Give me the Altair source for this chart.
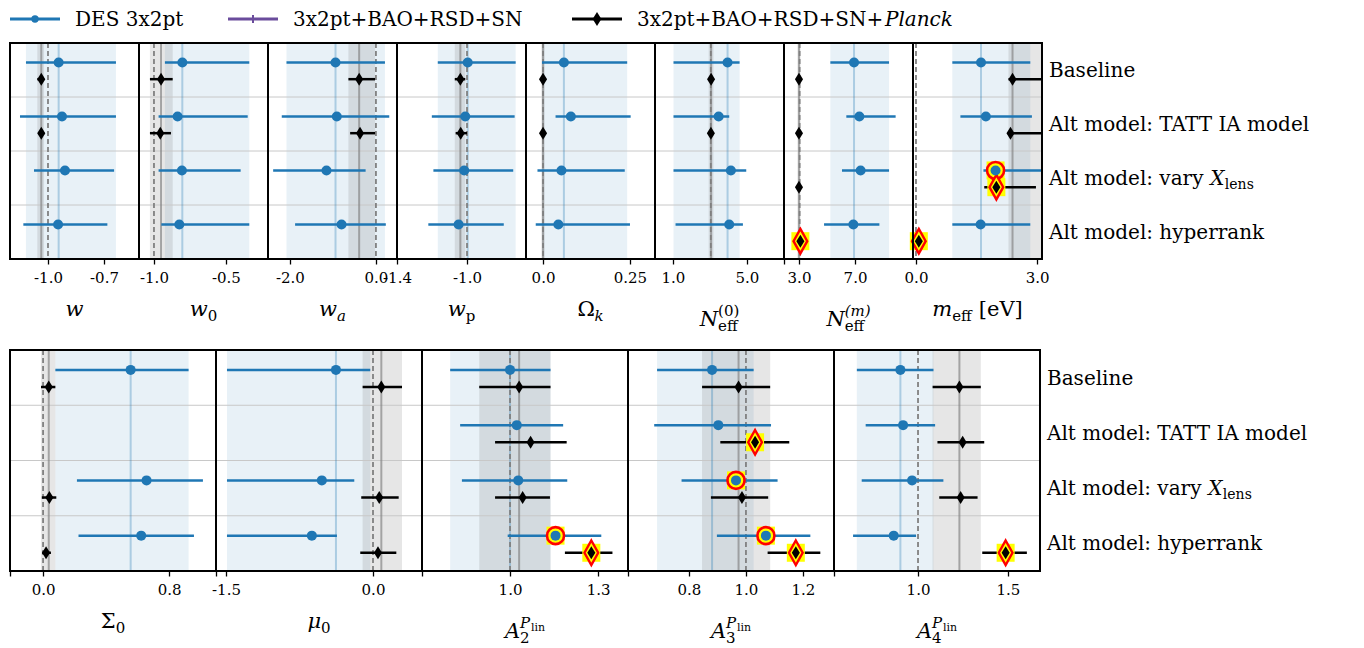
import altair as alt
import pandas as pd

# ---------------- data ----------------
ROW_LABELS = ["Baseline", "Alt model: TATT IA model", "Alt model: vary |X|lens", "Alt model: hyperrank"]
LEGEND_LABELS = ["DES 3x2pt", "3x2pt+BAO+RSD+SN", "3x2pt+BAO+RSD+SN+|Planck"]
LEGEND_COLORS = ["#1f77b4", "#6a4c9c", "#000000"]

# (centre, low, high) per row: Baseline, TATT, vary X_lens, hyperrank ; None = not shown
W_DES = [(-0.943, -1.118, -0.636), (-0.925, -1.150, -0.636), (-0.909, -1.075, -0.646), (-0.946, -1.132, -0.682)]
W_CMB = [(-1.036, -1.057, -1.021), (-1.036, -1.052, -1.020), None, None]
W0_DES = [(-0.803, -0.924, -0.338), (-0.836, -0.968, -0.349), (-0.806, -0.968, -0.398), (-0.824, -0.949, -0.338)]
W0_CMB = [(-0.951, -1.028, -0.870), (-0.956, -1.028, -0.882), None, None]
WA_DES = [(-0.94, -2.08, 0.21), (-0.91, -2.19, 0.31), (-1.15, -2.39, -0.24), (-0.80, -1.88, 0.23)]
WA_CMB = [(-0.39, -0.64, -0.02), (-0.37, -0.60, -0.02), None, None]
WP_DES = [(-0.996, -1.167, -0.722), (-1.010, -1.201, -0.728), (-1.016, -1.192, -0.736), (-1.048, -1.221, -0.790)]
WP_CMB = [(-1.038, -1.070, -1.010), (-1.036, -1.065, -1.000), None, None]
OK_DES = [(0.060, -0.003, 0.242), (0.080, 0.036, 0.252), (0.053, -0.016, 0.235), (0.044, -0.021, 0.250)]
OK_CMB = [(0.000, -0.005, 0.005), (0.000, -0.005, 0.005), None, None]
N0_DES = [(3.95, 1.03, 4.60), (3.47, 1.03, 4.04), (4.13, 1.03, 4.96), (4.04, 1.14, 4.78)]
N0_CMB = [(3.06, 2.93, 3.19), (3.05, 2.93, 3.17), None, None]
NM_DES = [(6.93, 5.24, 9.43), (7.31, 6.38, 9.90), (7.40, 6.07, 9.43), (6.88, 4.79, 8.74)]
NM_CMB = [(3.00, 2.88, 3.12), (3.00, 2.90, 3.10), (3.00, 2.90, 3.10), (3.10, 2.95, 3.25)]
MEFF_DES = [(1.61, 0.90, 2.83), (1.73, 1.10, 2.87), (1.97, 1.67, 3.20), (1.60, 0.90, 2.83)]
MEFF_CMB = [(2.39, 2.29, 3.20), (2.34, 2.27, 3.20), (1.99, 1.69, 2.97), (0.07, 0.00, 0.14)]
S0_DES = [(0.556, 0.078, 0.924), None, (0.657, 0.215, 1.015), (0.623, 0.225, 0.958)]
S0_CMB = [(0.036, -0.013, 0.078), None, (0.040, -0.008, 0.084), (0.019, -0.006, 0.050)]
MU0_DES = [(-0.378, -1.49, -0.028), None, (-0.522, -1.49, -0.191), (-0.624, -1.49, -0.368)]
MU0_CMB = [(0.085, -0.106, 0.296), None, (0.064, -0.120, 0.262), (0.051, -0.130, 0.238)]
A2_DES = [(1.000, 0.796, 1.138), (1.023, 0.830, 1.181), (1.028, 0.836, 1.195), (1.155, 0.992, 1.311)]
A2_CMB = [(1.031, 0.895, 1.138), (1.070, 0.949, 1.193), (1.043, 0.949, 1.136), (1.277, 1.187, 1.349)]
A3_DES = [(0.881, 0.688, 1.027), (0.903, 0.678, 1.088), (0.965, 0.774, 1.111), (1.070, 0.898, 1.226)]
A3_CMB = [(0.974, 0.846, 1.085), (1.032, 0.910, 1.152), (0.986, 0.877, 1.078), (1.175, 1.076, 1.261)]
A4_DES = [(0.902, 0.660, 1.086), (0.917, 0.709, 1.095), (0.967, 0.687, 1.141), (0.865, 0.639, 0.989)]
A4_CMB = [(1.230, 1.081, 1.349), (1.248, 1.108, 1.368), (1.237, 1.118, 1.331), (1.487, 1.357, 1.605)]

# highlighted (flagged) points
NONE_HL = [0, 0, 0, 0]
NM_CMB_HL = [0, 0, 0, 1]
MEFF_DES_HL = [0, 0, 1, 0]
MEFF_CMB_HL = [0, 0, 1, 1]
A2_DES_HL = [0, 0, 0, 1]
A2_CMB_HL = [0, 0, 0, 1]
A3_DES_HL = [0, 0, 1, 1]
A3_CMB_HL = [0, 1, 0, 1]
A4_CMB_HL = [0, 0, 0, 1]

# fiducial values
FIDUCIALS = {"w": -1.0, "w0": -1.0, "wa": 0.0, "wp": -1.0, "ok": 0.0, "n0": 3.046, "nm": 3.046,
             "meff": 0.0, "s0": 0.0, "mu0": 0.0, "a2": 1.0, "a3": 1.0, "a4": 1.0}

# axis ranges and ticks
DOMAINS = {"w": [-1.2035, -0.5126], "w0": [-1.104, -0.208], "wa": [-2.51, 0.49], "wp": [-1.4, -0.663],
           "ok": [-0.049, 0.322], "n0": [0.03, 7.0], "nm": [1.93, 11.14], "meff": [-0.074, 3.12],
           "s0": [-0.21, 1.098], "mu0": [-1.602, 0.5], "a2": [0.7, 1.402], "a3": [0.586, 1.309],
           "a4": [0.533, 1.678]}
TICKS = {"w": [-1.0, -0.7], "w0": [-1.0, -0.5], "wa": [-2.0, 0.0], "wp": [-1.4, -1.0], "ok": [0.0, 0.25],
         "n0": [1.0, 5.0, 7.0], "nm": [3.0, 7.0], "meff": [0.0, 3.0], "s0": [-0.21, 0.0, 0.8],
         "mu0": [-1.602, -1.5, 0.0], "a2": [0.7, 1.0, 1.3], "a3": [0.586, 0.8, 1.0, 1.2], "a4": [0.533, 1.0, 1.5]}
TICK_LABELS = {"w": ["-1.0", "-0.7"], "w0": ["-1.0", "-0.5"], "wa": ["-2.0", "0.0"], "wp": ["-1.4", "-1.0"],
               "ok": ["0.0", "0.25"], "n0": ["1.0", "5.0", ""], "nm": ["3.0", "7.0"], "meff": ["0.0", "3.0"],
               "s0": ["", "0.0", "0.8"], "mu0": ["", "-1.5", "0.0"], "a2": ["", "1.0", "1.3"],
               "a3": ["", "0.8", "1.0", "1.2"], "a4": ["", "1.0", "1.5"]}

# axis titles as (text, style) pieces; third item True = stacked over previous piece
TITLES = {
    "w": [("w", "mi")], "w0": [("w", "mi"), ("0", "sub")], "wa": [("w", "mi"), ("a", "subi")],
    "wp": [("w", "mi"), ("p", "sub")], "ok": [("Ω", "mr"), ("k", "subi")],
    "n0": [("N", "mi"), ("eff", "sub"), ("(0)", "sup", True)],
    "nm": [("N", "mi"), ("eff", "sub"), ("(m)", "supi", True)],
    "meff": [("m", "mi"), ("eff", "sub"), (" ", "gap"), ("[eV]", "mr")],
    "s0": [("Σ", "mr"), ("0", "sub")], "mu0": [("μ", "mi"), ("0", "sub")],
    "a2": [("A", "mi"), ("2", "sub"), ("P", "supi", True), ("lin", "supsub")],
    "a3": [("A", "mi"), ("3", "sub"), ("P", "supi", True), ("lin", "supsub")],
    "a4": [("A", "mi"), ("4", "sub"), ("P", "supi", True), ("lin", "supsub")],
}

PANELS_TOP = [("w", W_DES, W_CMB, NONE_HL, NONE_HL), ("w0", W0_DES, W0_CMB, NONE_HL, NONE_HL),
              ("wa", WA_DES, WA_CMB, NONE_HL, NONE_HL), ("wp", WP_DES, WP_CMB, NONE_HL, NONE_HL),
              ("ok", OK_DES, OK_CMB, NONE_HL, NONE_HL), ("n0", N0_DES, N0_CMB, NONE_HL, NONE_HL),
              ("nm", NM_DES, NM_CMB, NONE_HL, NM_CMB_HL), ("meff", MEFF_DES, MEFF_CMB, MEFF_DES_HL, MEFF_CMB_HL)]
PANELS_BOT = [("s0", S0_DES, S0_CMB, NONE_HL, NONE_HL), ("mu0", MU0_DES, MU0_CMB, NONE_HL, NONE_HL),
              ("a2", A2_DES, A2_CMB, A2_DES_HL, A2_CMB_HL), ("a3", A3_DES, A3_CMB, A3_DES_HL, A3_CMB_HL),
              ("a4", A4_DES, A4_CMB, NONE_HL, A4_CMB_HL)]

# ---------------- style / layout ----------------
BLUE = "#1f77b4"
GREY = "#808080"
FONT = "DejaVu Serif"
TOP_W, TOP_H = 129, 216
BOT_W, BOT_H = 206, 221
ROW_GAP = 15
LEG_Y = -24
Y_DES, Y_CMB = 0.36, 0.67
THIN_DIAMOND = "M0,-1L0.62,0L0,1L-0.62,0Z"
HL_DIAMOND = "M0,-1L0.56,0L0,1L-0.56,0Z"
VBAR = "M0,-1L0,1"

CW = {'0': .636, '1': .636, '2': .636, '3': .636, '4': .636, '5': .636, '6': .636, '7': .636, '8': .636,
      '9': .636, '.': .318, '-': .338, ' ': .318, '(': .39, ')': .39, '[': .39, ']': .39,
      '+': .838, 'A': .722, 'B': .735, 'D': .83, 'E': .73, 'I': .373, 'N': .872, 'O': .787, 'P': .733,
      'R': .77, 'S': .685, 'T': .669, 'V': .722, 'X': .736, 'a': .596, 'b': .64, 'c': .56, 'd': .64,
      'e': .592, 'f': .37, 'h': .64, 'i': .32, 'k': .6, 'l': .32, 'm': .948, 'n': .64, 'o': .602,
      'p': .64, 'r': .478, 's': .513, 't': .402, 'v': .565, 'w': .856, 'x': .645, 'y': .565, ':': .337,
      'Ω': .8, 'Σ': .72, 'μ': .64}

SEG = {"mi": (21, "italic", 0), "mr": (21, "normal", 0), "gap": (21, "normal", 0),
       "sub": (15, "normal", 5), "subi": (15, "italic", 5),
       "sup": (15, "normal", -10), "supi": (15, "italic", -10), "supsub": (11, "normal", -7),
       "lab": (20, "normal", 0), "labi": (20, "italic", 0), "labsub": (14, "normal", 4)}


def text_w(s, size):
    return sum(CW.get(ch, 0.6) for ch in s) * size


def layout(segs):
    out, last_start, last_end, total = [], 0.0, 0.0, 0.0
    for seg in segs:
        text, kind = seg[0], seg[1]
        stack = len(seg) > 2 and seg[2]
        size, style, dy = SEG[kind]
        start = last_start if stack else last_end
        end = start + text_w(text, size)
        if kind != "gap":
            out.append((text, size, style, start, dy))
        last_start, last_end = start, end
        total = max(total, end)
    return out, total


def text_pieces(segs, x0, y, y_is_field=False, yscale=None, dy0=0, centre=False):
    pieces, total = layout(segs)
    if centre:
        x0 = x0 - total / 2
    layers = []
    for text, size, style, dx, dy in pieces:
        df = pd.DataFrame({"t": [text], "yc": [y]})
        yenc = alt.Y("yc:Q", scale=yscale, axis=None) if y_is_field else alt.value(y + dy)
        layers.append(alt.Chart(df).mark_text(align="left", baseline="alphabetic", font=FONT, fontSize=size,
                                             fontStyle=style, color="black",
                                             dy=(dy0 + dy) if y_is_field else 0)
                      .encode(text="t:N", x=alt.value(x0 + dx), y=yenc))
    return layers


def label_segments(label, main="lab", italic="labi", sub="labsub"):
    if "|" in label:
        parts = label.split("|")
        segs = [(parts[0].rstrip(), main)]
        if parts[0].endswith(" "):
            segs.append((" ", "gap"))
        segs.append((parts[1], italic))
        if len(parts) > 2 and parts[2]:
            segs.append((parts[2], sub))
        return segs
    return [(label, main)]


def label_expr(ticks, labels):
    expr = "''"
    for v, lab in zip(reversed(ticks), reversed(labels)):
        expr = f"abs(datum.value - ({v})) < 1e-6 ? '{lab}' : ({expr})"
    return expr


def build_rows(vals, hl, off, series):
    rows = []
    for i, v in enumerate(vals):
        if v is not None:
            rows.append({"series": series, "row": i, "y": i + off, "c": v[0], "lo": v[1], "hi": v[2], "hl": hl[i]})
    return pd.DataFrame(rows, columns=["series", "row", "y", "c", "lo", "hi", "hl"])


def panel(key, des_vals, cmb_vals, des_hl, cmb_hl, width, height, last=False, legend=False):
    des = build_rows(des_vals, des_hl, Y_DES, "DES")
    cmb = build_rows(cmb_vals, cmb_hl, Y_CMB, "CMB")
    ref = pd.DataFrame([{"blo": des_vals[0][1], "bhi": des_vals[0][2], "bc": des_vals[0][0],
                         "glo": cmb_vals[0][1], "ghi": cmb_vals[0][2], "gc": cmb_vals[0][0],
                         "fid": FIDUCIALS[key]}])
    seps = pd.DataFrame({"s": [1, 2, 3]})
    xs = alt.Scale(domain=DOMAINS[key], nice=False, zero=False)
    ys = alt.Scale(domain=[0, 4], reverse=True, nice=False, zero=False)
    ax = alt.Axis(values=TICKS[key], labelExpr=label_expr(TICKS[key], TICK_LABELS[key]), title=None,
                  domain=False, grid=False, ticks=True, tickColor="black", tickWidth=1.3, tickSize=5,
                  labelFont=FONT, labelFontSize=15, labelColor="black", labelPadding=6,
                  labelFlush=False, labelOverlap=False, labelBound=False)

    def X(f):
        return alt.X(f, type="quantitative", scale=xs, axis=ax)

    def Y(f):
        return alt.Y(f, type="quantitative", scale=ys, axis=None)

    r = alt.Chart(ref)
    layers = [
        r.mark_rect(color=BLUE, opacity=0.1, clip=True).encode(x=X("blo"), x2="bhi"),
        r.mark_rect(color=GREY, opacity=0.2, clip=True).encode(x=X("glo"), x2="ghi"),
        alt.Chart(seps).mark_rule(color="#c8c8c8", strokeWidth=1).encode(y=Y("s")),
        r.mark_rule(color=BLUE, opacity=0.3, strokeWidth=2, clip=True).encode(x=X("bc")),
        r.mark_rule(color=GREY, opacity=0.65, strokeWidth=2, clip=True).encode(x=X("gc")),
        r.mark_rule(color=GREY, strokeWidth=1.8, strokeDash=[5, 3], clip=True).encode(x=X("fid")),
        alt.Chart(des).mark_rule(color=BLUE, strokeWidth=2.5, clip=True).encode(x=X("lo"), x2="hi", y=Y("y")),
        alt.Chart(cmb).mark_rule(color="black", strokeWidth=2.5, clip=True).encode(x=X("lo"), x2="hi", y=Y("y")),
        alt.Chart(des).transform_filter("datum.hl == 1").mark_square(color="#ffff00", size=324, opacity=1)
        .encode(x=X("c"), y=Y("y")),
        alt.Chart(cmb).transform_filter("datum.hl == 1").mark_square(color="#ffff00", size=324, opacity=1)
        .encode(x=X("c"), y=Y("y")),
        alt.Chart(des).transform_filter("datum.hl == 1")
        .mark_point(shape="circle", filled=True, fill="#ffff00", stroke="#ff0000", strokeWidth=2.6,
                    size=290, opacity=1).encode(x=X("c"), y=Y("y")),
        alt.Chart(cmb).transform_filter("datum.hl == 1")
        .mark_point(shape=HL_DIAMOND, filled=True, fill="#ffff00", stroke="#ff0000", strokeWidth=2.4,
                    size=600, opacity=1).encode(x=X("c"), y=Y("y")),
        alt.Chart(des).mark_circle(color=BLUE, size=100, opacity=1).encode(x=X("c"), y=Y("y")),
        alt.Chart(cmb).mark_point(shape=THIN_DIAMOND, filled=True, color="black", size=170, opacity=1)
        .encode(x=X("c"), y=Y("y")),
        r.mark_rect(fill="transparent", stroke="black", strokeWidth=2)
        .encode(x=alt.value(0), x2=alt.value(width), y=alt.value(0), y2=alt.value(height)),
    ]
    # axis title
    stacked = any(len(s) > 2 for s in TITLES[key])
    tdy = 67 if stacked else 57
    layers += text_pieces(TITLES[key], width / 2, height + tdy, centre=True)
    # row labels
    if last:
        for i, lab in enumerate(ROW_LABELS):
            layers += text_pieces(label_segments(lab), width + 7, i + 0.5, y_is_field=True, yscale=ys, dy0=7)
    # legend (above first panel)
    if legend:
        xpos = [0, 218, 562]
        shapes = ["circle", VBAR, THIN_DIAMOND]
        sizes = [55, 64, 200]
        for i, (lab, col) in enumerate(zip(LEGEND_LABELS, LEGEND_COLORS)):
            d = alt.Chart(pd.DataFrame({"t": [lab]}))
            layers.append(d.mark_rule(color=col, strokeWidth=3)
                          .encode(x=alt.value(xpos[i]), x2=alt.value(xpos[i] + 50), y=alt.value(LEG_Y)))
            layers.append(d.mark_point(shape=shapes[i], filled=(i != 1), color=col, size=sizes[i], opacity=1,
                                       strokeWidth=2 if i == 1 else 1)
                          .encode(x=alt.value(xpos[i] + 25), y=alt.value(LEG_Y)))
            layers += text_pieces(label_segments(lab), xpos[i] + 65, LEG_Y + 7)
    return alt.layer(*layers).properties(width=width, height=height)


top = [panel(k, d, c, dh, ch, TOP_W, TOP_H, last=(i == len(PANELS_TOP) - 1), legend=(i == 0))
       for i, (k, d, c, dh, ch) in enumerate(PANELS_TOP)]
bot = [panel(k, d, c, dh, ch, BOT_W, BOT_H, last=(i == len(PANELS_BOT) - 1))
       for i, (k, d, c, dh, ch) in enumerate(PANELS_BOT)]

chart = alt.vconcat(
    alt.hconcat(*top, spacing=0, bounds="flush"),
    alt.hconcat(*bot, spacing=0, bounds="flush"),
    spacing=ROW_GAP,
).properties(padding={"left": 0, "right": 0, "top": 2, "bottom": 0}, background="white"
             ).configure_view(strokeWidth=0)

chart.save("out.html", embed_options={"renderer": "svg", "actions": False})
